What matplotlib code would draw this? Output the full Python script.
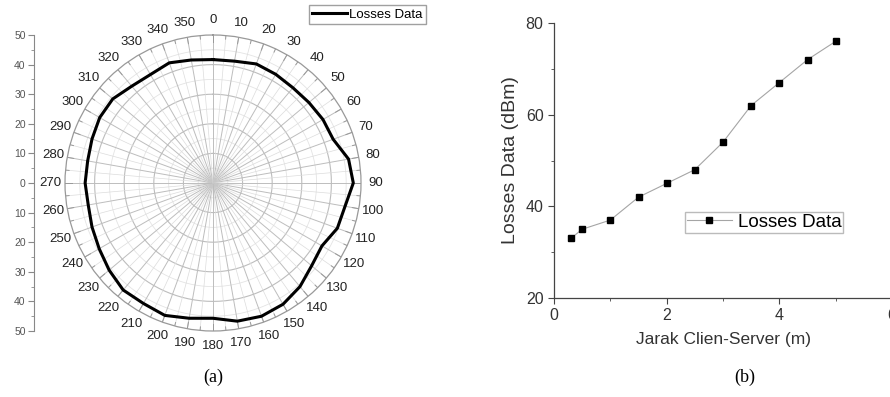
import numpy as np
import matplotlib.pyplot as plt
from matplotlib.ticker import MultipleLocator, FixedLocator

plt.rcParams["font.family"] = ["Liberation Sans", "DejaVu Sans"]

# (a) polar losses pattern, one value every 10 degrees
angle_deg = list(range(0, 360, 10))
polar_losses = [
    41.7, 41.8, 42.8, 42.4, 42.0, 42.3, 42.9, 43.2, 46.5, 47.4,
    45.3, 44.7, 42.5, 43.5, 45.7, 47.3, 47.9, 47.4, 45.7, 46.4,
    47.6, 47.0, 47.2, 45.8, 44.4, 43.5, 42.8, 43.2, 43.0, 43.5,
    44.2, 44.2, 42.7, 42.3, 43.2, 42.2,
]

# (b) losses vs client-server distance
distance_m = [0.3, 0.5, 1.0, 1.5, 2.0, 2.5, 3.0, 3.5, 4.0, 4.5, 5.0]
losses_dbm = [33, 35, 37, 42, 45, 48, 54, 62, 67, 72, 76]

series_label = "Losses Data"

W, H = 890, 397
fig = plt.figure(figsize=(W / 100, H / 100), dpi=100)


def px(x0, y0, x1, y1):
    return [x0 / W, 1 - y1 / H, (x1 - x0) / W, (y1 - y0) / H]


# ---- polar panel ----
cx, cy, R = 213, 183, 148
ax = fig.add_axes(px(cx - R, cy - R, cx + R, cy + R), projection="polar")
ax.set_theta_zero_location("N")
ax.set_theta_direction(-1)
ax.set_ylim(0, 50)
ax.grid(False)
ax.set_yticks([])
ax.set_xticks(np.deg2rad(angle_deg))
ax.set_xticklabels([str(a) for a in angle_deg], fontsize=9.5, color="#222")
ax.tick_params(axis="x", pad=0)
ax.spines["polar"].set_color("#999999")
ax.spines["polar"].set_linewidth(0.9)

ring = np.linspace(0, 2 * np.pi, 361)
for r in range(5, 50, 5):
    ax.plot(ring, np.full_like(ring, r), color="#bdbdbd" if r % 10 == 0 else "#e4e4e4",
            lw=0.8 if r % 10 == 0 else 0.6, zorder=1)
for a in range(0, 360, 5):
    t = np.deg2rad(a)
    ax.plot([t, t], [0, 50], color="#bdbdbd" if a % 10 == 0 else "#dcdcdc",
            lw=0.7 if a % 10 == 0 else 0.5, zorder=1)
    ax.plot([t, t], [47.8 if a % 10 == 0 else 48.8, 50], color="#999999", lw=0.7, zorder=1)

theta = np.deg2rad(angle_deg + [angle_deg[0]])
rvals = polar_losses + [polar_losses[0]]
ax.plot(theta, rvals, color="black", lw=2.2, zorder=3, label=series_label)
ax.legend(loc="upper right", bbox_to_anchor=(426 / W, 1 - 5 / H), bbox_transform=fig.transFigure,
          fontsize=9.5, frameon=True, fancybox=False, edgecolor="#888888", borderpad=0.25,
          handlelength=2.6, handletextpad=0.2, borderaxespad=0)

# radial scale drawn as a separate vertical axis
sax = fig.add_axes(px(34, cy - R, 35, cy + R))
sax.set_ylim(-50, 50)
sax.set_xticks([])
for s in ["top", "right", "bottom"]:
    sax.spines[s].set_visible(False)
sax.spines["left"].set_color("#888888")
sax.spines["left"].set_linewidth(0.8)
sax.yaxis.set_major_locator(FixedLocator(range(-50, 51, 10)))
sax.yaxis.set_minor_locator(MultipleLocator(5))
sax.set_yticklabels([str(abs(v)) for v in range(-50, 51, 10)])
sax.tick_params(axis="y", which="major", labelsize=7.5, labelcolor="#555555", length=4,
                color="#888888", pad=2)
sax.tick_params(axis="y", which="minor", length=2, color="#888888")
sax.patch.set_visible(False)

# ---- distance panel ----
bx = fig.add_axes(px(554, 23, 892, 298))
bx.plot(distance_m, losses_dbm, color="#a5a5a5", lw=0.8, marker="s", markersize=4.5,
        markerfacecolor="black", markeredgecolor="black", label=series_label)
bx.set_xlim(0, 6)
bx.set_ylim(20, 80)
bx.xaxis.set_major_locator(MultipleLocator(2))
bx.xaxis.set_minor_locator(MultipleLocator(1))
bx.yaxis.set_major_locator(MultipleLocator(20))
bx.yaxis.set_minor_locator(MultipleLocator(10))
for s in ["top", "right"]:
    bx.spines[s].set_visible(False)
for s in ["left", "bottom"]:
    bx.spines[s].set_color("#444444")
    bx.spines[s].set_linewidth(0.9)
bx.tick_params(which="major", labelsize=11.5, labelcolor="#333333", length=4, color="#444444")
bx.tick_params(which="minor", length=2, color="#444444")
bx.set_xlabel("Jarak Clien-Server (m)", fontsize=12.5, color="#333333", labelpad=6)
bx.set_ylabel("Losses Data (dBm)", fontsize=14, color="#333333", labelpad=5)
bx.legend(loc="upper left", bbox_to_anchor=(685 / W, 1 - 212 / H), bbox_transform=fig.transFigure,
          fontsize=13.5, frameon=True, fancybox=False, edgecolor="#aaaaaa", borderpad=0.1,
          handlelength=2.4, handletextpad=0.3, borderaxespad=0)

# panel captions
fig.text(213 / W, 1 - 377 / H, "(a)", ha="center", va="center", fontsize=13,
         family=["Liberation Serif", "DejaVu Serif"])
fig.text(745 / W, 1 - 377 / H, "(b)", ha="center", va="center", fontsize=13,
         family=["Liberation Serif", "DejaVu Serif"])

fig.savefig("out.png", dpi=100)
